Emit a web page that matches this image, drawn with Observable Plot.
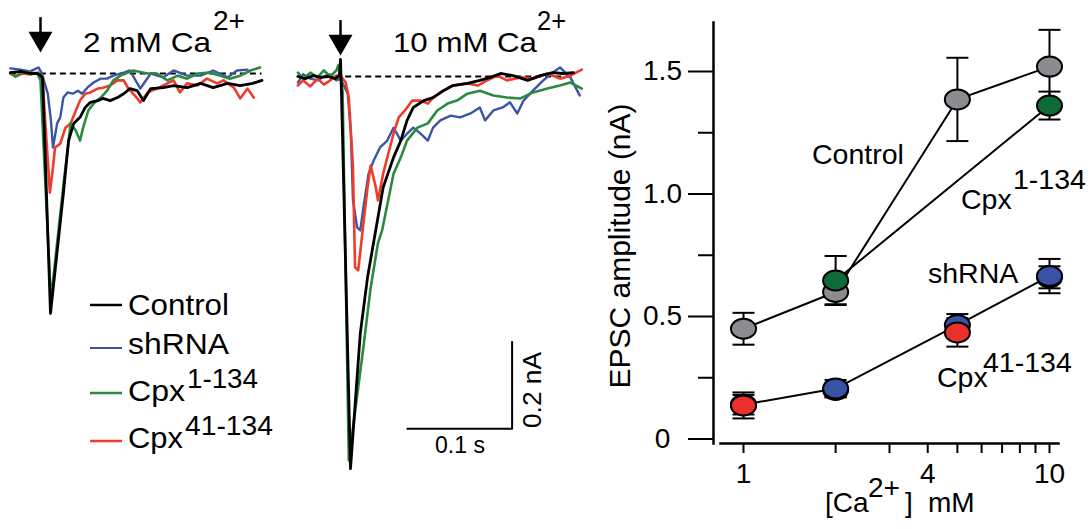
<!DOCTYPE html>
<html>
<head>
<meta charset="utf-8">
<script src="https://cdn.jsdelivr.net/npm/d3@7"></script>
<script src="https://cdn.jsdelivr.net/npm/@observablehq/plot@0.6"></script>
<style>
  body { margin: 0; background: #fff; }
  #fig { position: relative; width: 1092px; height: 529px; font-family: "Liberation Sans", Arial, sans-serif; }
  #fig > svg { position: absolute; top: 0; }
</style>
</head>
<body>
<div id="fig"></div>
<script>
// ================= DATA =================
const seriesNames = ["Control", "shRNA", "Cpx1-134", "Cpx41-134"];

// --- EPSC traces: [time (ms), current (nA)] ---
// 2 mM Ca2+
const ca2Control = [[-29,0.002],[-19,0.005],[-10,0],[-3,0],[0,-0.005],[2,-0.01],[9.6,-0.558],[22,-0.279],[27,-0.156],[32,-0.116],[38,-0.102],[43,-0.079],[48,-0.067],[55,-0.063],[60,-0.058],[67,-0.063],[74,-0.056],[80,-0.047],[86,-0.035],[93,-0.040],[99,-0.063],[106,-0.035],[118,-0.033],[128,-0.028],[141,-0.033],[154,-0.023],[166,-0.033],[180,-0.023],[192,-0.028],[204,-0.023],[213,-0.016]];
const ca2Shrna = [[-29,0.012],[-19,0.009],[-10,0.005],[-2,0.014],[1,0.002],[7,-0.047],[10,-0.109],[12,-0.172],[16,-0.116],[19,-0.102],[22,-0.056],[26,-0.044],[31,-0.047],[36,-0.040],[40,-0.047],[45,-0.033],[51,-0.021],[58,-0.012],[64,-0.012],[70,-0.005],[80,0.002],[86,0.007],[96,-0.035],[106,0],[118,-0.009],[128,0.007],[141,-0.005],[154,-0.005],[166,0.007],[180,-0.009],[189,0.007],[199,0.009]];
const ca2Cpx1 = [[-29,0.002],[-24,-0.007],[-17,0.005],[-10,0.002],[-3,0],[0,-0.016],[10,-0.528],[22,-0.260],[29,-0.116],[34,-0.133],[38,-0.156],[41,-0.126],[46,-0.086],[51,-0.070],[58,-0.056],[64,-0.040],[70,-0.016],[77,-0.005],[84,0.002],[89,0.007],[103,0],[112,0],[122,-0.016],[132,-0.005],[141,-0.012],[151,0],[163,0.002],[173,-0.005],[182,-0.012],[192,-0.005],[202,0.007],[211,0.014]];
const ca2Cpx41 = [[-29,0],[-24,-0.007],[-17,0],[-10,-0.002],[-2,0.002],[2,-0.016],[9,-0.277],[12,-0.219],[14,-0.172],[19,-0.163],[24,-0.126],[29,-0.116],[34,-0.086],[38,-0.063],[43,-0.047],[48,-0.044],[55,-0.035],[60,-0.033],[67,-0.028],[74,-0.016],[80,-0.016],[84,-0.033],[93,-0.058],[96,-0.067],[103,-0.044],[112,-0.035],[122,-0.023],[128,-0.016],[134,-0.044],[141,-0.023],[151,-0.028],[160,-0.012],[170,-0.023],[176,-0.016],[186,-0.033],[192,-0.058],[199,-0.035],[205,-0.056]];
// 10 mM Ca2+
const ca10Control = [[-41,0],[-34,-0.005],[-26,0.002],[-19,-0.002],[-12,0],[-5,-0.005],[-1,0.002],[0,0.040],[1,-0.044],[9.6,-0.912],[19,-0.598],[26,-0.467],[36,-0.328],[41,-0.258],[51,-0.188],[58,-0.149],[64,-0.102],[70,-0.072],[80,-0.056],[89,-0.049],[99,-0.033],[108,-0.021],[122,-0.016],[134,-0.009],[144,-0.002],[154,0.007],[166,0.002],[180,-0.009],[192,0.002],[204,0.009],[214,0.007],[224,0.009]];
const ca10Shrna = [[-41,-0.014],[-36,0.005],[-29,-0.005],[-22,-0.009],[-16,0],[-10,0.005],[-4,-0.009],[0,-0.005],[7,-0.040],[10,-0.133],[12,-0.288],[16,-0.351],[19,-0.358],[22,-0.305],[27,-0.226],[32,-0.195],[38,-0.165],[45,-0.149],[51,-0.119],[58,-0.149],[64,-0.133],[70,-0.119],[77,-0.133],[84,-0.149],[89,-0.119],[96,-0.102],[106,-0.091],[115,-0.095],[125,-0.086],[134,-0.072],[139,-0.102],[147,-0.079],[156,-0.072],[163,-0.060],[170,-0.086],[176,-0.056],[185,-0.033],[195,-0.009],[204,0.009],[211,0.021],[221,-0.002],[230,-0.044]];
const ca10Cpx1 = [[-41,0.009],[-36,-0.005],[-29,0.009],[-22,-0.002],[-16,0.014],[-10,0],[-4,0.014],[-2,0.026],[2,-0.033],[8,-0.893],[22,-0.630],[29,-0.491],[36,-0.388],[40,-0.358],[51,-0.226],[58,-0.188],[64,-0.149],[74,-0.119],[84,-0.109],[93,-0.079],[103,-0.063],[112,-0.056],[122,-0.040],[134,-0.033],[147,-0.044],[160,-0.049],[173,-0.051],[185,-0.037],[199,-0.028],[211,-0.021],[221,-0.014],[232,-0.028]];
const ca10Cpx41 = [[-41,-0.021],[-36,-0.009],[-29,-0.023],[-22,-0.005],[-16,-0.019],[-10,-0.009],[-4,0.002],[0,0.002],[5,-0.014],[8,-0.049],[12,-0.212],[14,-0.444],[17,-0.451],[21,-0.365],[26,-0.258],[29,-0.207],[34,-0.258],[36,-0.288],[41,-0.226],[46,-0.179],[51,-0.133],[56,-0.095],[62,-0.079],[69,-0.056],[77,-0.056],[84,-0.063],[89,-0.049],[99,-0.033],[108,-0.021],[122,-0.016],[132,-0.021],[141,-0.009],[151,0.002],[160,-0.009],[173,-0.002],[185,-0.005],[199,0.007],[211,-0.005],[221,0.002],[232,0.016]];

// stimulus arrow (nA above baseline) and scale bar (100 ms, 0.2 nA)
const stimArrowTop = 0.13, stimArrowHead = 0.081, stimArrowStemEnd = 0.077;
const scaleBarTime = 100, scaleBarCurrent = 0.2;
const scaleBarStart = 65, scaleBarLevel = -0.819;
const ca2Baseline = [-29, 213], ca10Baseline = [5, 224];

// --- EPSC amplitude vs [Ca2+] ---
const calcium = [1, 2, 5, 10];
const controlAmp = [0.45, 0.60, 1.386, 1.52];
const controlErr = [0.065, 0.05, 0.17, 0.15];
const cpx1Calcium = [2, 10];
const cpx1Amp = [0.647, 1.361];
const cpx1Err = [0.10, 0.057];
const shrnaAmp = [0.14, 0.206, 0.465, 0.665];
const shrnaErr = [0.04, 0.035, 0.045, 0.07];
const cpx41Amp = [0.137, 0.20, 0.435, 0.66];
const cpx41Err = [0.053, 0.03, 0.058, 0.045];
const onTopAt = {1: "Cpx41-134", 2: "shRNA", 5: "Cpx41-134", 10: "shRNA"};
const joinedSeries = ["Control", "Cpx1-134", "shRNA"]; // Cpx41-134 line runs under the shRNA line

const xTicks = [1, 2, 3, 4, 5, 6, 7, 8, 9, 10];
const xTickLabels = [1, 4, 10];
const yMajorTicks = [0, 0.5, 1.0, 1.5];
const yMinorTicks = [0.25, 0.75, 1.25];

// ================= STYLE =================
const FONT = "'Liberation Sans', Arial, Helvetica, sans-serif";
const traceColors = ["#000000", "#3b55a6", "#2b8a40", "#ef3b2c"];
const traceWidths = {"Control": 2.8, "shRNA": 2.4, "Cpx1-134": 2.6, "Cpx41-134": 2.6};
const dotColors = ["#8b8c8f", "#3953a4", "#0e6b37", "#e9302a"];
const pxPerMs = 1.04, pxPerNa = 430;

// ================= BUILD =================
const fig = document.getElementById("fig");

function toRows(sets) {
  return sets.flatMap(([series, pts]) => pts.map(([t, i]) => ({series, t, i})));
}

function tracePanel({rows, left, width, originX, baselineY, dash, scaleBar}) {
  const marks = [
    Plot.ruleY([0], {x1: dash[0], x2: dash[1], stroke: "black", strokeWidth: 2, strokeDasharray: "6,4"}),
    ...["shRNA", "Cpx41-134", "Cpx1-134", "Control"].map(s =>
      Plot.line(rows.filter(d => d.series === s), {x: "t", y: "i", stroke: "series", strokeWidth: traceWidths[s], strokeLinejoin: "round"})
    ),
    Plot.ruleX([0], {y1: stimArrowStemEnd, y2: stimArrowTop, stroke: "black", strokeWidth: 2.5}),
    Plot.dot([{t: 0, i: stimArrowHead}], {x: "t", y: "i", symbol: "triangle", r: 8.9, rotate: 180, fill: "black"})
  ];
  if (scaleBar) {
    marks.push(
      Plot.ruleY([scaleBarLevel], {x1: scaleBarStart, x2: scaleBarStart + scaleBarTime, stroke: "black", strokeWidth: 2, strokeLinecap: "square"}),
      Plot.ruleX([scaleBarStart + scaleBarTime], {y1: scaleBarLevel, y2: scaleBarLevel + scaleBarCurrent, stroke: "black", strokeWidth: 2, strokeLinecap: "square"})
    );
  }
  const svg = Plot.plot({
    width, height: 529, margin: 0,
    x: {domain: [0, 200], range: [originX, originX + 200 * pxPerMs], axis: null},
    y: {domain: [0, -0.5], range: [baselineY, baselineY + 0.5 * pxPerNa], axis: null},
    color: {domain: seriesNames, range: traceColors},
    style: {background: "transparent", overflow: "visible"},
    marks
  });
  svg.style.left = left + "px";
  return svg;
}

const ca2Rows = toRows([["shRNA", ca2Shrna], ["Cpx41-134", ca2Cpx41], ["Cpx1-134", ca2Cpx1], ["Control", ca2Control]]);
const ca10Rows = toRows([["shRNA", ca10Shrna], ["Cpx41-134", ca10Cpx41], ["Cpx1-134", ca10Cpx1], ["Control", ca10Control]]);

fig.appendChild(tracePanel({rows: ca2Rows, left: 0, width: 290, originX: 40, baselineY: 73, dash: ca2Baseline}));
fig.appendChild(tracePanel({rows: ca10Rows, left: 290, width: 310, originX: 50, baselineY: 76, dash: ca10Baseline, scaleBar: true}));

// ---- amplitude plot ----
const ampRows = [
  ...calcium.map((c, k) => ({series: "Control", conc: c, amp: controlAmp[k], err: controlErr[k]})),
  ...cpx1Calcium.map((c, k) => ({series: "Cpx1-134", conc: c, amp: cpx1Amp[k], err: cpx1Err[k]})),
  ...calcium.map((c, k) => ({series: "shRNA", conc: c, amp: shrnaAmp[k], err: shrnaErr[k]})),
  ...calcium.map((c, k) => ({series: "Cpx41-134", conc: c, amp: cpx41Amp[k], err: cpx41Err[k]}))
];
const drawRank = d => ["Control", "Cpx1-134", "shRNA", "Cpx41-134"].indexOf(d.series) + (onTopAt[d.conc] === d.series ? 10 : 0);
const dotRows = ampRows.slice().sort((a, b) => drawRank(a) - drawRank(b));

const K = 0.5523;
const ellipse = {
  draw(ctx, size) {
    const r = Math.sqrt(size / Math.PI), rx = r * 1.14, ry = r * 0.91;
    ctx.moveTo(rx, 0);
    ctx.bezierCurveTo(rx, K * ry, K * rx, ry, 0, ry);
    ctx.bezierCurveTo(-K * rx, ry, -rx, K * ry, -rx, 0);
    ctx.bezierCurveTo(-rx, -K * ry, -K * rx, -ry, 0, -ry);
    ctx.bezierCurveTo(K * rx, -ry, rx, -K * ry, rx, 0);
    ctx.closePath();
  }
};
const capLine = {
  draw(ctx, size) {
    const r = Math.sqrt(size / Math.PI);
    ctx.moveTo(-r, 0);
    ctx.lineTo(r, 0);
  }
};

const ampPlot = Plot.plot({
  width: 492, height: 529,
  marginLeft: 113, marginTop: 22, marginRight: 34, marginBottom: 86,
  x: {type: "log", domain: [1, 10], range: [143, 449]},
  y: {domain: [0, 1.5], range: [438.5, 71]},
  color: {domain: seriesNames, range: dotColors},
  style: {background: "transparent", fontFamily: FONT, fontSize: "28px", color: "black", overflow: "visible"},
  marks: [
    Plot.frame({anchor: "left", strokeWidth: 2.5}),
    Plot.frame({anchor: "bottom", insetLeft: 7, strokeWidth: 2.5}),
    Plot.axisY(yMajorTicks, {anchor: "left", tickSize: 25, tickPadding: 26, textAnchor: "middle", strokeWidth: 2, tickFormat: d => d === 0 ? "0" : d.toFixed(1), label: null}),
    Plot.axisY(yMinorTicks, {anchor: "left", tickSize: 15, strokeWidth: 2, tickFormat: () => "", label: null}),
    Plot.axisX(xTicks, {anchor: "bottom", tickSize: 10, strokeWidth: 2, tickFormat: () => "", label: null}),
    Plot.text(xTickLabels, {x: d => d, text: d => String(d), frameAnchor: "bottom", lineAnchor: "top", dy: 20, fill: "black"}),
    Plot.line(ampRows.filter(d => joinedSeries.includes(d.series)), {x: "conc", y: "amp", z: "series", stroke: "black", strokeWidth: 2}),
    Plot.ruleX(ampRows, {x: "conc", y1: d => d.amp - d.err, y2: d => d.amp + d.err, stroke: "black", strokeWidth: 2}),
    Plot.dot(ampRows, {x: "conc", y: d => d.amp + d.err, r: 11, symbol: capLine, stroke: "black", strokeWidth: 2, fill: "none"}),
    Plot.dot(ampRows, {x: "conc", y: d => d.amp - d.err, r: 11, symbol: capLine, stroke: "black", strokeWidth: 2, fill: "none"}),
    Plot.dot(dotRows, {x: "conc", y: "amp", r: 11, symbol: ellipse, fill: "series", stroke: "black", strokeWidth: 2})
  ]
});
ampPlot.style.left = "600px";
fig.appendChild(ampPlot);

// ---- annotation text (titles, legend, labels) ----
const labels = [
  {text: "2 mM Ca", x: 83, y: 52, size: 28, len: 128},
  {text: "2+", x: 213, y: 30, size: 28, len: 32},
  {text: "10 mM Ca", x: 393, y: 52, size: 28, len: 144},
  {text: "2+", x: 537, y: 30, size: 28, len: 29},
  {text: "Control", x: 128, y: 315, size: 29, len: 101},
  {text: "shRNA", x: 128, y: 354, size: 29, len: 101},
  {text: "Cpx", x: 128, y: 401, size: 29, len: 57},
  {text: "1-134", x: 187, y: 388, size: 28, len: 71},
  {text: "Cpx", x: 128, y: 448, size: 29, len: 55},
  {text: "41-134", x: 185, y: 435, size: 28, len: 88},
  {text: "0.1 s", x: 435, y: 453, size: 24, len: 50},
  {text: "0.2 nA", x: 541, y: 428, size: 25, len: 76, rotate: -90},
  {text: "EPSC amplitude (nA)", x: 630, y: 246, size: 30, anchor: "middle", rotate: -90},
  {text: "Control", x: 812, y: 164, size: 28.5},
  {text: "Cpx", x: 961, y: 209, size: 28.5},
  {text: "1-134", x: 1013, y: 189, size: 28.5},
  {text: "shRNA", x: 928, y: 283, size: 28.5},
  {text: "Cpx", x: 937, y: 387, size: 28.5},
  {text: "41-134", x: 983, y: 372, size: 28.5},
  {text: "[Ca", x: 825, y: 512, size: 28},
  {text: "2+", x: 868, y: 497, size: 28},
  {text: "]", x: 905, y: 512, size: 28},
  {text: "mM", x: 928, y: 512, size: 28}
];
const legendSwatches = [
  {series: "Control", y: 305, w: 2.5},
  {series: "shRNA", y: 348, w: 2},
  {series: "Cpx1-134", y: 393, w: 2.5},
  {series: "Cpx41-134", y: 441, w: 2.5}
];

const overlay = d3.create("svg")
  .attr("width", 1092).attr("height", 529)
  .style("left", "0px").style("pointer-events", "none")
  .style("font-family", FONT);
overlay.selectAll("line.sw").data(legendSwatches).join("line")
  .attr("class", "sw")
  .attr("x1", 90).attr("x2", 122)
  .attr("y1", d => d.y).attr("y2", d => d.y)
  .attr("stroke", d => traceColors[seriesNames.indexOf(d.series)])
  .attr("stroke-width", d => d.w);
for (const L of labels) {
  const t = overlay.append("text")
    .attr("x", L.x).attr("y", L.y)
    .attr("font-size", L.size)
    .attr("fill", "black")
    .attr("text-anchor", L.anchor || "start")
    .text(L.text);
  if (L.len) t.attr("textLength", L.len).attr("lengthAdjust", "spacingAndGlyphs");
  if (L.rotate) t.attr("transform", `rotate(${L.rotate} ${L.x} ${L.y})`);
}
fig.appendChild(overlay.node());
</script>
</body>
</html>
